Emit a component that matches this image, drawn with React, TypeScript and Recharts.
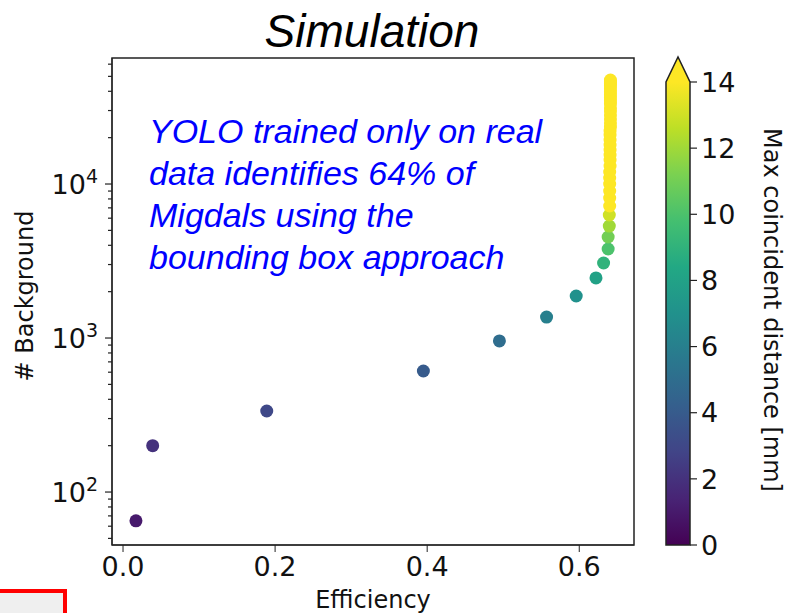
import React from 'react';
import { ScatterChart, Scatter, XAxis, YAxis, ReferenceArea } from 'recharts';

// efficiency vs number of background events, coloured by max coincident distance
const efficiency = [
  0.017, 0.039, 0.189, 0.395, 0.495, 0.557, 0.596, 0.622, 0.632, 0.638, 0.638, 0.6395, 0.6395,
  0.640, 0.640, 0.640, 0.640, 0.640, 0.640, 0.6405, 0.6405, 0.6405, 0.6405, 0.6405, 0.6405,
  0.6405, 0.6405, 0.641, 0.641, 0.641, 0.641, 0.641, 0.641, 0.641, 0.641, 0.641, 0.641,
  0.641, 0.641, 0.641, 0.641, 0.641, 0.641,
];
const background = [
  65, 200, 336, 611, 957, 1368, 1874, 2455, 3070, 3785, 4530, 5335, 6295,
  7200, 8100, 9000, 10000, 10940, 11970, 13090, 14320, 15430, 16630, 17920, 19310,
  20800, 22090, 23460, 24910, 26450, 28090, 29830, 31180, 33050, 34590, 36170, 37830,
  39560, 41380, 43280, 44600, 45940, 47330,
];
const maxDistance = [
  1, 2, 3, 4, 5, 6, 7, 8, 9, 10, 11, 12, 13,
  14, 15, 16, 17, 18, 19, 20, 21, 22, 23, 24, 25,
  26, 27, 28, 29, 30, 31, 32, 33, 34, 35, 36, 37,
  38, 39, 40, 41, 42, 43,
];

const xTicks = [0, 0.2, 0.4, 0.6];
const yMajorTicks = [100, 1000, 10000];
const yMinorTicks = [
  50, 60, 70, 80, 90,
  200, 300, 400, 500, 600, 700, 800, 900,
  2000, 3000, 4000, 5000, 6000, 7000, 8000, 9000,
  20000, 30000, 40000, 50000, 60000,
];
const colorbarTicks = [0, 2, 4, 6, 8, 10, 12, 14];
const colorMax = 14;

const annotation = [
  'YOLO trained only on real',
  'data identifies 64% of',
  'Migdals using the',
  'bounding box approach',
];

// matplotlib viridis, sampled every 0.1
const viridis = ['#440154', '#482475', '#414487', '#355f8d', '#2a788e', '#21918c', '#22a884', '#44bf70', '#7ad151', '#bddf26', '#fde725'];

const hex = (c: string) => [1, 3, 5].map((i) => parseInt(c.slice(i, i + 2), 16));
const viridisAt = (t: number) => {
  const u = Math.max(0, Math.min(1, t)) * (viridis.length - 1);
  const i = Math.min(Math.floor(u), viridis.length - 2);
  const f = u - i;
  const a = hex(viridis[i]);
  const b = hex(viridis[i + 1]);
  const m = a.map((v, k) => Math.round(v + (b[k] - v) * f));
  return `rgb(${m[0]},${m[1]},${m[2]})`;
};

const data = efficiency.map((e, i) => ({
  eff: e,
  bkg: background[i],
  color: viridisAt(maxDistance[i] / colorMax),
}));

const allYTicks = [...yMajorTicks, ...yMinorTicks].sort((a, b) => a - b);

const FONT = '"DejaVu Sans", sans-serif';
const AXIS = '#222';

const LogTick = (props: any) => {
  const { x, y, payload } = props;
  const v = Number(payload.value);
  const lg = Math.log10(v);
  const exp = Math.round(lg);
  const major = Math.abs(lg - exp) < 1e-6;
  return (
    <g>
      <line x1={x - (major ? 7 : 4)} x2={x} y1={y} y2={y} stroke={AXIS} strokeWidth={1.2} />
      {major && (
        <text x={x - 14} y={y} dy="0.36em" textAnchor="end" fontSize={27} fontFamily={FONT} fill="#111">
          10<tspan dy={-11} fontSize={19}>{exp}</tspan>
        </text>
      )}
    </g>
  );
};

const Dot = (props: any) => (
  <circle cx={props.cx} cy={props.cy} r={6.5} fill={props.payload.color} />
);

// colorbar geometry
const cbLeft = 666;
const cbW = 24;
const cbTop = 82;
const cbBottom = 545;
const cbY = (v: number) => cbBottom - (v / colorMax) * (cbBottom - cbTop);

export default function App() {
  return (
    <div style={{ position: 'absolute', left: 0, top: 0, width: 791, height: 613, background: '#fff', overflow: 'hidden' }}>
      <ScatterChart width={791} height={613} margin={{ top: 58, right: 157, bottom: 28, left: 42 }}>
        <XAxis
          type="number"
          dataKey="eff"
          domain={[-0.0145, 0.672]}
          allowDataOverflow
          ticks={xTicks}
          interval={0}
          tickFormatter={(v: number) => v.toFixed(1)}
          height={40}
          tickSize={7}
          tickMargin={5}
          stroke={AXIS}
          tick={{ fontSize: 27, fontFamily: FONT, fill: '#111' }}
        />
        <YAxis
          type="number"
          dataKey="bkg"
          scale="log"
          domain={[45.3, 65800]}
          allowDataOverflow
          ticks={allYTicks}
          interval={0}
          width={70}
          tickSize={0}
          tickMargin={0}
          tickLine={false}
          stroke={AXIS}
          tick={<LogTick />}
        />
        <ReferenceArea x1={-0.0145} x2={0.672} y1={45.3} y2={65800} fill="none" stroke={AXIS} strokeWidth={1.5} ifOverflow="visible" />
        <Scatter data={data} isAnimationActive={false} shape={<Dot />} />
      </ScatterChart>

      <svg width={791} height={613} style={{ position: 'absolute', left: 0, top: 0, pointerEvents: 'none' }}>
        <defs>
          <linearGradient id="viridisGrad" x1="0" y1="1" x2="0" y2="0">
            {viridis.map((c, i) => (
              <stop key={i} offset={`${(i / (viridis.length - 1)) * 100}%`} stopColor={c} />
            ))}
          </linearGradient>
        </defs>

        {/* title */}
        <text x={372} y={47} textAnchor="middle" fontSize={46} fontStyle="italic" fontFamily='"Liberation Sans", Arial, sans-serif' fill="#000">
          Simulation
        </text>

        {/* annotation */}
        {annotation.map((line, i) => (
          <text key={i} x={149} y={143 + i * 42} fontSize={34} fontStyle="italic" fontFamily='"Liberation Sans", Arial, sans-serif' fill="#0000ff">
            {line}
          </text>
        ))}

        {/* axis labels */}
        <text x={373} y={608} textAnchor="middle" fontSize={24} fontFamily={FONT} fill="#111">Efficiency</text>
        <text transform="translate(25,296) rotate(-90)" textAnchor="middle" dominantBaseline="central" fontSize={24} fontFamily={FONT} fill="#111">
          # Background
        </text>

        {/* colorbar */}
        <rect x={cbLeft} y={cbTop} width={cbW} height={cbBottom - cbTop} fill="url(#viridisGrad)" />
        <polygon points={`${cbLeft},${cbTop} ${cbLeft + cbW / 2},${cbTop - 25} ${cbLeft + cbW},${cbTop}`} fill={viridis[viridis.length - 1]} />
        <path
          d={`M${cbLeft},${cbBottom} L${cbLeft},${cbTop} L${cbLeft + cbW / 2},${cbTop - 25} L${cbLeft + cbW},${cbTop} L${cbLeft + cbW},${cbBottom} Z`}
          fill="none"
          stroke={AXIS}
          strokeWidth={1.5}
        />
        {colorbarTicks.map((v) => (
          <g key={v}>
            <line x1={cbLeft + cbW} x2={cbLeft + cbW + 7} y1={cbY(v)} y2={cbY(v)} stroke={AXIS} strokeWidth={1.2} />
            <text x={cbLeft + cbW + 11} y={cbY(v)} dy="0.36em" fontSize={27} fontFamily={FONT} fill="#111">{v}</text>
          </g>
        ))}
        <text transform="translate(772,310) rotate(90)" textAnchor="middle" dominantBaseline="central" fontSize={24} fontFamily={FONT} fill="#111">
          Max coincident distance [mm]
        </text>
      </svg>

      {/* red highlight box cut off at the bottom left */}
      <div style={{ position: 'absolute', left: -6, top: 589, width: 65, height: 40, border: '4px solid #f00', background: '#efefef' }} />
    </div>
  );
}
